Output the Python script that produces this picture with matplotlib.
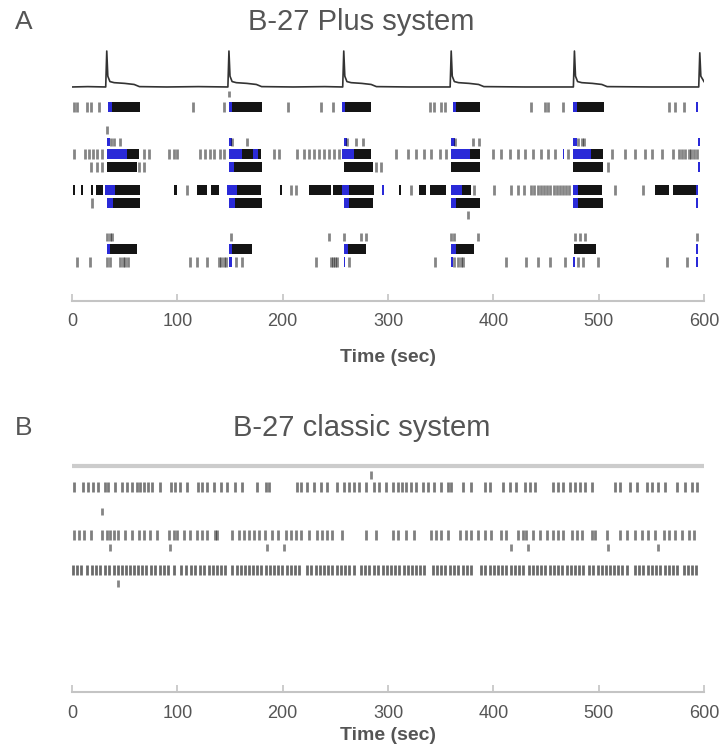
import matplotlib
matplotlib.use("Agg")
import matplotlib.pyplot as plt

plt.rcParams['font.family'] = ['Liberation Sans', 'DejaVu Sans']

# ---- Panel A: B-27 Plus system (spike times in sec) ----
# population trace on top (normalised to peak = 1)
trace_a_t = [0, 15, 32, 33, 34, 36, 40, 50, 59, 64, 90, 120, 148, 149, 150, 152, 156, 166, 175, 180,
             210, 240, 257, 258, 259, 261, 265, 275, 284, 289, 320, 359, 360, 361, 363, 367, 377,
             386, 391, 430, 476, 477, 478, 480, 484, 494, 503, 508, 550, 595, 596, 597, 600]
trace_a_v = [0.0, 0.01, 0.0, 1.0, 0.3, 0.15, 0.12, 0.10, 0.07, 0.01, 0.0, 0.01, 0.0, 1.0, 0.3, 0.15,
             0.12, 0.10, 0.07, 0.01, 0.0, 0.01, 0.0, 1.0, 0.3, 0.15, 0.12, 0.10, 0.07, 0.01, 0.0,
             0.0, 1.0, 0.3, 0.15, 0.12, 0.10, 0.07, 0.01, 0.0, 0.0, 1.0, 0.3, 0.15, 0.12, 0.10,
             0.07, 0.01, 0.0, 0.0, 0.95, 0.3, 0.15]

# each row: isolated spikes, bursts (start, end), blue onset spikes (start, end)
a_r0_spikes = [149]
a_r1_spikes = [1.9, 5.1, 13.9, 17.8, 26.0, 115, 144, 205.4, 236, 248, 339.4, 344, 349.9, 353.7,
               436, 449, 452, 466.3, 566.3, 572.7, 580.6]
a_r1_bursts = [(34.6, 64.8), (148.9, 180.6), (256, 283.8), (361.6, 387), (475.9, 504.6)]
a_r1_blue = [(34.6, 38), (148.9, 152), (256, 259), (361.6, 365), (475.9, 479), (592.5, 594.5)]

a_r2a_spikes = [33]

a_r2b_spikes = [36.8, 40, 45.4, 152, 166, 261.5, 270, 276, 364, 381, 386, 480, 484, 486]
a_r2b_blue = [(33, 36), (148.9, 151.5), (258, 261), (360, 364), (476, 479), (594, 596)]

a_r2c_spikes = [1.9, 12.4, 16.5, 20.3, 23.5, 28.3, 67.9, 72.7, 91.7, 96.5, 99.7, 121.9, 126.7,
                131.4, 135.2, 140.3, 144.1, 191.7, 196.5, 213.9, 220.3, 225, 229.8, 234.6, 239.4,
                244.1, 248.9, 253.7, 307.6, 318.7, 326.7, 334.6, 341, 348.9, 355.2, 399.7, 407.6,
                415.6, 423.5, 429.8, 437.8, 445.7, 452, 458.4, 471, 512.4, 525.1, 534.6, 544.1,
                550.5, 560, 571, 575.9, 579, 582, 585.4, 588, 590.2, 593.3]
a_r2c_bursts = [(33, 63.2), (148.9, 179), (256.8, 283.8), (360, 387), (475.9, 504.5)]
a_r2c_blue = [(33, 52), (148.9, 161), (172, 177), (256.8, 268), (360, 377.5), (466, 467.5),
              (475.9, 493)]

a_r2d_spikes = [17.8, 23.5, 28.3, 63.8, 67.9, 288.6, 293.3, 509]
a_r2d_bursts = [(33, 61.6), (148.9, 180.6), (257.8, 285.4), (360, 387), (476, 504.5)]
a_r2d_blue = [(148.9, 154), (594, 596)]

a_r3a_spikes = [109.2, 207.6, 212.4, 321.9, 382, 401, 416.8, 423.2, 429.5, 436, 439, 442.5, 445,
                448.5, 451, 454, 457.5, 460, 463, 466.5, 469, 472, 515.6, 542.5]
a_r3a_bursts = [(0.5, 2.5), (8.2, 10.4), (17.7, 19.8), (22.5, 29), (31.4, 64.8), (97, 99.3),
                (118.7, 128.3), (132, 140), (147.3, 179), (197, 199.3), (225, 245.7), (248, 256),
                (256.8, 287), (310, 312), (329, 336), (340, 355), (360, 379), (475.9, 503),
                (553.6, 566.3), (571, 593.3)]
a_r3a_blue = [(31.4, 41), (147.3, 157), (256.8, 263), (294, 296), (360, 370), (476, 480.6),
              (592.5, 594.5)]

a_r3b_spikes = [18.7]
a_r3b_bursts = [(33, 64.8), (148.9, 180.6), (257.8, 285.4), (360, 387), (476, 504.5)]
a_r3b_blue = [(33, 39), (149, 155), (258, 263), (360, 365), (476, 480), (592.5, 594.5)]

a_r3c_spikes = [375.8]

a_r4a_spikes = [33.6, 36, 38.4, 150.5, 244, 258, 274, 278.7, 360, 362.5, 385, 478, 482, 487, 593.5]

a_r4b_bursts = [(33, 61.6), (149, 171), (258, 279), (360, 382), (477, 497)]
a_r4b_blue = [(33, 36), (149, 152), (258, 262), (360, 365), (592.5, 594.5)]

a_r4c_spikes = [4.4, 17.1, 33, 36, 45.7, 48, 50.5, 53.6, 112.4, 118.7, 128.3, 139.4, 141.5, 144,
                146.5, 156, 161, 231.4, 245.7, 248, 250, 252, 263, 345, 363, 366, 369, 371, 412,
                431.4, 442.5, 453.6, 468, 480.6, 485.4, 499.7, 564.8, 583.8]
a_r4c_blue = [(148.9, 152), (258, 259.5), (360, 361.5), (476, 477.5), (592.5, 594.5)]

# ---- Panel B: B-27 classic system ----
b_r0_spikes = [283.8]
b_r1_spikes = [1.9, 10.2, 15.6, 20.3, 25.1, 31.4, 34.6, 40.9, 47.3, 52.1, 56.8, 61.6, 64.8, 67.9,
               71.7, 75.9, 83.2, 94, 98.1, 102.9, 109.2, 119.4, 123.5, 128.3, 134.6, 141, 147.3,
               154.3, 161.6, 175.9, 183.8, 187, 213.3, 217.1, 223.5, 229.8, 236.2, 242.5, 252,
               258.4, 263.2, 267.9, 272.7, 279, 287, 291.7, 298.1, 304.4, 309.2, 313, 317.1,
               321.9, 326.7, 333, 337.8, 344.1, 350.5, 356.8, 360, 371.1, 379, 391.7, 396.5,
               409.2, 415.6, 421.9, 429.8, 434.6, 439.4, 456.8, 461.6, 466.3, 472.7, 477.5,
               482.2, 487, 493.3, 515.6, 520.3, 529.8, 536.2, 545.7, 550.5, 556.8, 563.2, 574.3,
               582.2, 588.6, 593.3]
b_r1s_spikes = [28.3]
b_r2_spikes = [1.9, 7, 11.4, 17.8, 28.3, 33, 36.2, 39.4, 44.1, 50.5, 56.8, 63.2, 67.9, 73.7, 80.6,
               91.7, 96.5, 99.7, 106, 112.4, 118.7, 123.5, 128.3, 136.2, 137.8, 152.1, 158.4,
               163.2, 167.9, 172.7, 177.5, 182.9, 190.2, 195.6, 202.9, 207.6, 212.4, 217.1,
               225.1, 233, 237.8, 242.5, 247.3, 256.8, 279, 288.6, 304.4, 309.2, 317.1, 325.1,
               341, 345.7, 350.5, 356.8, 367.9, 374.3, 379, 385.4, 391.7, 398.1, 407.6, 412.4,
               423.5, 428.3, 431.4, 437.8, 444.1, 450.5, 456.8, 461.6, 466.3, 474.3, 479, 483.8,
               493.3, 496.5, 507.6, 520.3, 526.7, 534.6, 541, 547.3, 553.7, 561.6, 566.3, 572.7,
               579, 585.4, 590.2]
b_r2s_spikes = [36.2, 93.3, 184.8, 201.3, 416.5, 433, 509.2, 556.2]
b_r3_spikes = [1.3, 5.1, 8.3, 14.6, 18.7, 22.9, 26.7, 31.4, 35.6, 39.4, 43.2, 47.3, 51.4, 55.2,
               59.0, 62.2, 66.3, 70.5, 74.9, 79.0, 83.2, 87.0, 90.8, 96.5, 103.5, 108.6, 113.0,
               117.1, 121.3, 125.1, 129.8, 134.0, 137.8, 141.6, 145.7, 152.1, 156.2, 160.0,
               163.8, 167.9, 172.1, 175.9, 179.7, 183.8, 188.0, 191.7, 195.6, 199.7, 203.8,
               207.6, 211.4, 215.5, 223.5, 227.3, 231.4, 235.5, 239.4, 243.2, 247.3, 251.4,
               255.2, 259.0, 263.2, 267.3, 274.3, 278.1, 282.2, 286.3, 290.2, 294.9, 299.0,
               302.8, 306.6, 310.8, 314.9, 318.7, 322.5, 326.6, 330.8, 334.6, 342.5, 346.6,
               350.4, 354.3, 358.4, 362.5, 366.3, 371.1, 375.2, 379.0, 388.5, 392.3, 396.5,
               400.6, 404.4, 408.2, 412.3, 416.5, 420.3, 424.1, 428.2, 433.6, 437.7, 441.9,
               445.7, 449.5, 453.6, 457.7, 461.5, 465.4, 469.5, 473.6, 477.4, 481.2, 485.4,
               490.8, 494.9, 499.0, 502.8, 506.6, 510.8, 514.9, 518.7, 522.5, 526.6, 534.6,
               538.4, 542.5, 546.6, 550.4, 554.3, 558.4, 562.5, 566.3, 570.1, 574.3, 580.6,
               584.7, 588.5, 592.3]
b_r3s_spikes = [44.1]

xticks = [0, 100, 200, 300, 400, 500, 600]

# row heights (in rows of ~12.4 px above the time axis)
a_levels = {'trace': 17.26, 'r0': 16.7, 'r1': 15.65, 'r2a': 13.79, 'r2b': 12.82, 'r2c': 11.85,
            'r2d': 10.81, 'r3a': 8.95, 'r3b': 7.90, 'r3c': 6.94, 'r4a': 5.16, 'r4b': 4.19,
            'r4c': 3.15}
b_levels = {'trace': 18.2, 'r0': 17.5, 'r1': 16.5, 'r1s': 14.57, 'r2': 12.63, 'r2s': 11.67,
            'r3': 9.81, 'r3s': 8.76}

BLUE = '#2a2ad8'
TXT = '#555555'
TICK_H = 0.8


def draw_row(ax, y, spikes=None, bursts=None, blue=None, h=TICK_H, alpha=0.48):
    if spikes:
        ax.eventplot(spikes, lineoffsets=y, linelengths=h, linewidths=2.0,
                     colors='black', alpha=alpha)
    if bursts:
        ax.broken_barh([(s, e - s) for s, e in bursts], (y - h / 2, h),
                       facecolors='black', edgecolor='none', alpha=0.92)
    if blue:
        ax.broken_barh([(s, max(e - s, 1.2)) for s, e in blue], (y - h / 2, h),
                       facecolors=BLUE, edgecolor='none')


def style_axis(ax, top, labelpad):
    ax.set_xlim(0, 600)
    ax.set_ylim(0, top)
    for s in ['left', 'right', 'top']:
        ax.spines[s].set_visible(False)
    ax.spines['bottom'].set_color('#c4c4c4')
    ax.spines['bottom'].set_linewidth(1.5)
    ax.set_yticks([])
    ax.set_xticks(xticks)
    ax.tick_params(axis='x', direction='in', length=5, width=1.2, color='#c4c4c4',
                   labelcolor=TXT, labelsize=13, pad=9)
    ax.set_xlabel('Time (sec)', fontsize=14, fontweight='bold', color=TXT, labelpad=labelpad)


fig = plt.figure(figsize=(7.27, 7.51), dpi=100)

# panel A
axA = fig.add_axes([72 / 727, 450 / 751, 632 / 727, 261 / 751])
base = a_levels['trace']
axA.plot(trace_a_t, [base + 2.9 * v for v in trace_a_v], color='#333333', lw=1.2)
draw_row(axA, a_levels['r0'], spikes=a_r0_spikes, h=0.5)
draw_row(axA, a_levels['r1'], a_r1_spikes, a_r1_bursts, a_r1_blue)
draw_row(axA, a_levels['r2a'], a_r2a_spikes, h=0.6)
draw_row(axA, a_levels['r2b'], a_r2b_spikes, None, a_r2b_blue, h=0.65)
draw_row(axA, a_levels['r2c'], a_r2c_spikes, a_r2c_bursts, a_r2c_blue)
draw_row(axA, a_levels['r2d'], a_r2d_spikes, a_r2d_bursts, a_r2d_blue)
draw_row(axA, a_levels['r3a'], a_r3a_spikes, a_r3a_bursts, a_r3a_blue)
draw_row(axA, a_levels['r3b'], a_r3b_spikes, a_r3b_bursts, a_r3b_blue)
draw_row(axA, a_levels['r3c'], a_r3c_spikes, h=0.6)
draw_row(axA, a_levels['r4a'], a_r4a_spikes, h=0.65)
draw_row(axA, a_levels['r4b'], None, a_r4b_bursts, a_r4b_blue)
draw_row(axA, a_levels['r4c'], a_r4c_spikes, None, a_r4c_blue)
style_axis(axA, 261 / 12.4, 13)

# panel B
axB = fig.add_axes([72 / 727, 59 / 751, 632 / 727, 239 / 751])
axB.plot([0, 600], [b_levels['trace']] * 2, color='#cccccc', lw=3)
draw_row(axB, b_levels['r0'], b_r0_spikes, h=0.6)
draw_row(axB, b_levels['r1'], b_r1_spikes, alpha=0.52)
draw_row(axB, b_levels['r1s'], b_r1s_spikes, h=0.6)
draw_row(axB, b_levels['r2'], b_r2_spikes, alpha=0.5)
draw_row(axB, b_levels['r2s'], b_r2s_spikes, h=0.6)
draw_row(axB, b_levels['r3'], b_r3_spikes, alpha=0.58)
draw_row(axB, b_levels['r3s'], b_r3s_spikes, h=0.6)
style_axis(axB, 239 / 12.4, 4)

# titles and panel letters
fig.text(15 / 727, 1 - 22 / 751, 'A', fontsize=19, color=TXT, va='center')
fig.text(0.497, 1 - 22 / 751, 'B-27 Plus system', fontsize=21, color=TXT, va='center', ha='center')
fig.text(15 / 727, 1 - 428 / 751, 'B', fontsize=19, color=TXT, va='center')
fig.text(0.497, 1 - 428 / 751, 'B-27 classic system', fontsize=21, color=TXT, va='center',
         ha='center')

plt.savefig('out.png', dpi=100)
